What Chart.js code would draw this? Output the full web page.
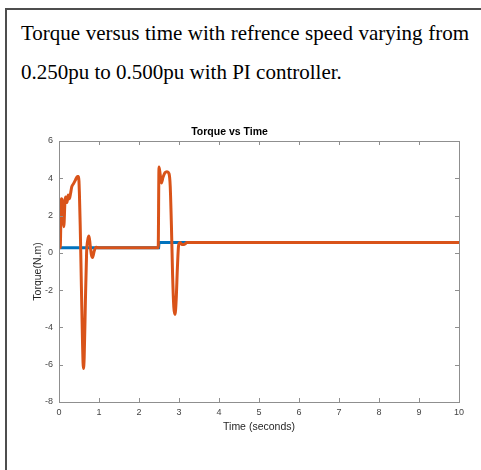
<!DOCTYPE html>
<html>
<head>
<meta charset="utf-8">
<script src="https://cdn.jsdelivr.net/npm/chart.js@4/dist/chart.umd.min.js"></script>
<style>
  html, body { margin: 0; padding: 0; background: #fff; }
  body { width: 481px; height: 470px; position: relative; overflow: hidden; }
  #frameL { position: absolute; left: 5px; top: 8px; width: 2px; height: 462px; background: #4d4d4d; }
  #frameT { position: absolute; left: 5px; top: 8px; width: 476px; height: 2px; background: #4d4d4d; }
  .hl { position: absolute; left: 21px; width: 448px; font-family: "Liberation Serif", "Times New Roman", serif;
        font-size: 21px; line-height: 38.7px; color: #000; white-space: nowrap; }
  #h1 { top: 14px; text-align: justify; text-align-last: justify; }
  #h2 { top: 52.5px; text-align: left; }
  #wrap { position: absolute; left: 0; top: 110px; width: 481px; height: 340px; }
</style>
</head>
<body>
<div id="frameL"></div>
<div id="frameT"></div>
<div class="hl" id="h1">Torque versus time with refrence speed varying from</div>
<div class="hl" id="h2">0.250pu to 0.500pu with PI controller.</div>
<div id="wrap"><canvas id="c" width="481" height="340" style="width:481px;height:340px"></canvas></div>
<script>
// ---- data ----
const xTicks = [0, 1, 2, 3, 4, 5, 6, 7, 8, 9, 10];
const yTicks = [-8, -6, -4, -2, 0, 2, 4, 6];

// electromagnetic torque (orange)
const timeTorque = [0, 0.03, 0.06, 0.08, 0.1, 0.12, 0.15, 0.17, 0.2, 0.23, 0.26, 0.29, 0.32, 0.36, 0.41, 0.46, 0.49,
  0.51, 0.53, 0.56, 0.59, 0.61, 0.63, 0.66, 0.69, 0.72, 0.75, 0.78, 0.81, 0.84, 0.88, 0.93, 0.98, 1.5, 2.0, 2.48,
  2.5, 2.53, 2.56, 2.6, 2.65, 2.7, 2.75, 2.78, 2.81, 2.84, 2.87, 2.9, 2.93, 2.96, 2.99, 3.03, 3.07, 3.12, 3.2, 3.3, 5, 7.5, 10];
const torqueValues = [0.28, 0.28, 2.9, 2.8, 2.0, 1.4, 2.8, 3.0, 2.7, 3.1, 2.9, 3.2, 3.55, 3.7, 3.9, 4.1, 4.1,
  3.2, 1.5, -1.8, -5.0, -6.2, -5.6, -2.6, 0.0, 0.7, 0.9, 0.4, -0.1, -0.25, 0.1, 0.3, 0.28, 0.28, 0.28, 0.28,
  4.6, 4.2, 3.75, 4.05, 4.3, 4.35, 4.25, 3.6, 1.5, -1.2, -2.9, -3.3, -2.5, -0.8, 0.4, 0.55, 0.45, 0.45, 0.55, 0.55, 0.55, 0.55, 0.55];

// reference / load torque (blue)
const timeRef = [0, 2.49, 2.5, 10];
const refValues = [0.28, 0.28, 0.55, 0.55];

const toXY = (xs, ys) => xs.map((x, i) => ({ x: x, y: ys[i] }));

const boxPlugin = {
  id: 'box',
  afterDraw(chart) {
    const ctx = chart.ctx;
    const a = chart.chartArea;
    const xs = chart.scales.x, ys = chart.scales.y;
    ctx.save();
    ctx.strokeStyle = '#8f8f8f';
    ctx.lineWidth = 1;
    ctx.strokeRect(Math.round(a.left) + 0.5, Math.round(a.top) + 0.5, Math.round(a.right - a.left), Math.round(a.bottom - a.top));
    ctx.beginPath();
    xTicks.forEach(v => {
      const p = Math.round(xs.getPixelForValue(v)) + 0.5;
      ctx.moveTo(p, a.bottom); ctx.lineTo(p, a.bottom - 4);
      ctx.moveTo(p, a.top); ctx.lineTo(p, a.top + 4);
    });
    yTicks.forEach(v => {
      const p = Math.round(ys.getPixelForValue(v)) + 0.5;
      ctx.moveTo(a.left, p); ctx.lineTo(a.left + 4, p);
      ctx.moveTo(a.right, p); ctx.lineTo(a.right - 4, p);
    });
    ctx.stroke();
    ctx.restore();
  }
};

new Chart(document.getElementById('c'), {
  type: 'line',
  data: {
    datasets: [
      { label: 'Torque', data: toXY(timeTorque, torqueValues), borderColor: '#D95319', borderWidth: 3,
        pointRadius: 0, fill: false, cubicInterpolationMode: 'monotone' },
      { label: 'Reference', data: toXY(timeRef, refValues), borderColor: '#0072BD', borderWidth: 3,
        pointRadius: 0, fill: false, tension: 0 }
    ]
  },
  options: {
    responsive: false,
    animation: false,
    devicePixelRatio: 1,
    layout: { padding: { left: 0, right: 22, top: 0, bottom: 0 } },
    plugins: {
      legend: { display: false },
      tooltip: { enabled: false },
      title: { display: true, text: 'Torque vs Time', color: '#000',
        font: { family: 'Liberation Sans', size: 10.5, weight: 'bold' }, padding: { top: 15.4, bottom: 3 } }
    },
    scales: {
      x: {
        type: 'linear', min: 0, max: 10,
        ticks: { stepSize: 1, color: '#444', padding: 5, font: { family: 'Liberation Sans', size: 9 } },
        grid: { display: false, drawTicks: false },
        border: { display: false },
        title: { display: true, text: 'Time (seconds)', color: '#262626',
          font: { family: 'Liberation Sans', size: 10.5 }, padding: { top: 0, bottom: 17 } },
        afterFit(s) { s.height = 48; }
      },
      y: {
        type: 'linear', min: -8, max: 6,
        ticks: { stepSize: 2, color: '#444', padding: 6, font: { family: 'Liberation Sans', size: 9 } },
        grid: { display: false, drawTicks: false },
        border: { display: false },
        title: { display: true, text: 'Torque(N.m)', color: '#262626',
          font: { family: 'Liberation Sans', size: 10.5 }, padding: { top: 31.7, bottom: 0 } },
        afterFit(s) { s.width = 59; }
      }
    }
  },
  plugins: [boxPlugin]
});
</script>
</body>
</html>
